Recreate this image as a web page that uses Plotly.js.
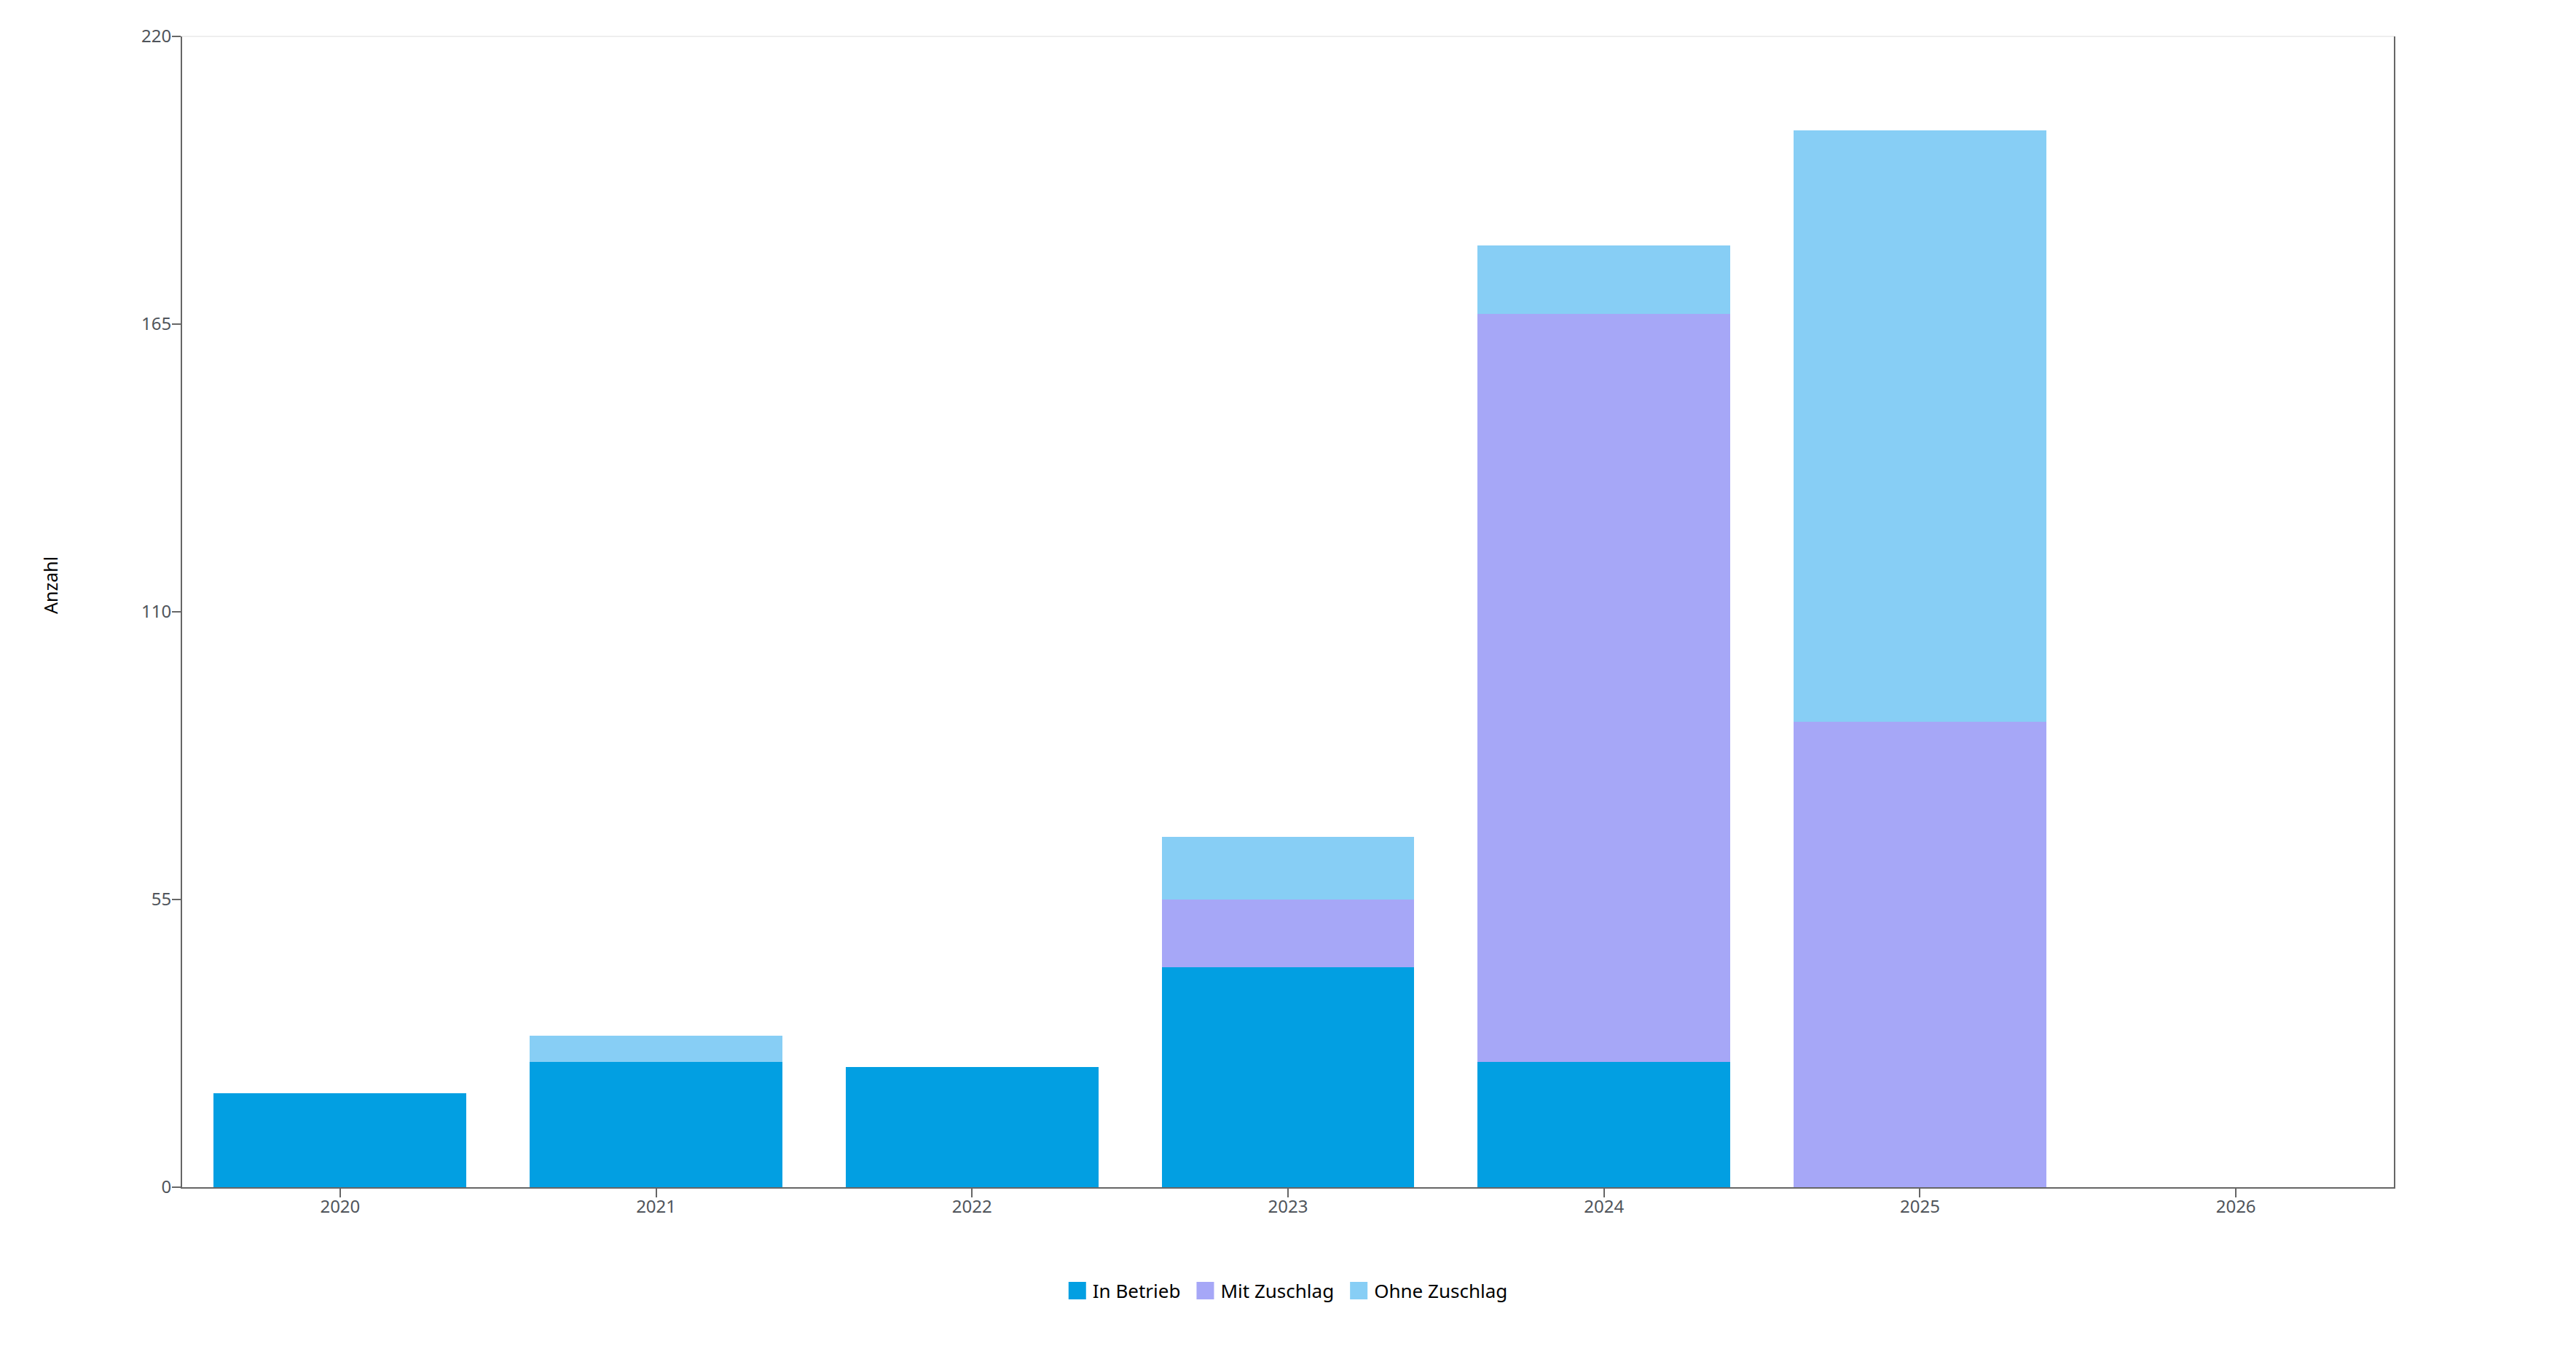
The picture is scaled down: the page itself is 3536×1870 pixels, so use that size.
<!DOCTYPE html>
<html>
<head>
<meta charset="utf-8">
<script src="https://cdn.plot.ly/plotly-3.0.1.min.js"></script>
<style>
  html, body { margin: 0; padding: 0; background: #ffffff; }
  #wrap { width: 3536px; height: 1870px; overflow: hidden; position: relative; background: #ffffff; }
  #chart { position: absolute; left: 0; top: 0; width: 1768px; height: 935px; transform: scale(2); transform-origin: 0 0; }
</style>
</head>
<body>
<div id="wrap"><div id="chart"></div></div>
<script>
// Data
const years = ["2020", "2021", "2022", "2023", "2024", "2025", "2026"];
const inBetrieb    = [18, 24, 23, 42, 24, 0, 0];
const mitZuschlag  = [0, 0, 0, 13, 143, 89, 0];
const ohneZuschlag = [0, 5, 0, 12, 13, 113, 0];
const seriesNames  = ["In Betrieb", "Mit Zuschlag", "Ohne Zuschlag"];
const yTicks       = [0, 55, 110, 165, 220];
const yTitle       = "Anzahl";

const colors = ["#029fe2", "#a6a7f7", "#87cef5"];
const fontFamily = '"Segoe UI", "Noto Sans", "Open Sans", sans-serif';

const series = [inBetrieb, mitZuschlag, ohneZuschlag];
const traces = series.map((vals, i) => ({
  type: "bar",
  name: seriesNames[i],
  x: years,
  y: vals,
  marker: { color: colors[i], line: { width: 0 } },
  hoverinfo: "x+y+name"
}));

const layout = {
  width: 1768,
  height: 935,
  paper_bgcolor: "#ffffff",
  plot_bgcolor: "#ffffff",
  barmode: "stack",
  bargap: 0.2,
  margin: { l: 125, r: 125, t: 25, b: 120 },
  font: { family: fontFamily, color: "#000000" },
  xaxis: {
    type: "category",
    showline: true,
    linecolor: "#666666",
    linewidth: 1,
    ticks: "outside",
    ticklen: 6,
    tickwidth: 1,
    tickcolor: "#666666",
    ticklabelstandoff: -4,
    showgrid: false,
    zeroline: false,
    tickfont: { family: fontFamily, size: 12, color: "#50555b" }
  },
  yaxis: {
    range: [0, 220],
    tickvals: yTicks,
    ticktext: yTicks.map(String),
    showline: true,
    mirror: true,
    linecolor: "#666666",
    linewidth: 1,
    ticks: "outside",
    ticklen: 6,
    tickwidth: 1,
    tickcolor: "#666666",
    ticklabelstandoff: -2,
    showgrid: false,
    zeroline: false,
    tickfont: { family: fontFamily, size: 12, color: "#50555b" }
  },
  annotations: [{
    text: yTitle,
    xref: "paper", yref: "paper",
    x: -0.0593, y: 0.5234,
    xanchor: "center", yanchor: "middle",
    textangle: -90,
    showarrow: false,
    font: { family: fontFamily, size: 12.5, color: "#000000" }
  }],
  shapes: [{
    type: "line", xref: "paper", yref: "paper",
    x0: 0, x1: 1, y0: 1, y1: 1,
    line: { color: "#eeeeee", width: 1 }
  }],
  showlegend: true,
  legend: {
    orientation: "h",
    x: 0.5, xanchor: "center",
    y: -0.09, yanchor: "middle",
    font: { family: fontFamily, size: 13, color: "#000000" },
    traceorder: "normal",
    itemclick: false
  }
};

// Tighten legend spacing (symbol-to-text gap and item gap) to match the reference
function tweakLegend(gd) {
  try {
    const items = Array.from(gd.querySelectorAll(".legend .traces"));
    if (!items.length) return;
    const svg = gd.querySelector(".main-svg");
    const svgRect = svg.getBoundingClientRect();
    const scale = svgRect.width / 1768;
    const symGap = 4.5, itemGap = 11;
    const info = items.map(g => {
      const txt = g.querySelector("text.legendtext");
      const sym = g.querySelector(".legendpoints path") || g.querySelector(".legendpoints");
      const sr = sym.getBoundingClientRect();
      const tr = txt.getBoundingClientRect();
      const m = /translate\(\s*([-\d.e]+)[ ,]+([-\d.e]+)\s*\)/.exec(g.getAttribute("transform") || "");
      return { g, txt, sr, tr, tx: m ? parseFloat(m[1]) : 0, ty: m ? parseFloat(m[2]) : 0 };
    });
    // layout in client pixels
    let pos = 0;
    const starts = [];
    info.forEach(d => {
      starts.push(pos);
      pos += d.sr.width + symGap * scale + d.tr.width;
      pos += itemGap * scale;
    });
    const total = pos - itemGap * scale;
    const fl = gd._fullLayout;
    const cxC = svgRect.left + (fl._size.l + fl._size.w / 2) * scale;
    const left0 = cxC - total / 2;
    info.forEach((d, i) => {
      const dTextSvg = ((d.tr.left - d.sr.right) / scale) - symGap;
      const oldX = parseFloat(d.txt.getAttribute("x") || "0");
      d.txt.setAttribute("x", oldX - dTextSvg);
      d.txt.querySelectorAll("tspan[x]").forEach(ts => {
        ts.setAttribute("x", parseFloat(ts.getAttribute("x")) - dTextSvg);
      });
      const dSvg = ((left0 + starts[i]) - d.sr.left) / scale;
      d.g.setAttribute("transform", "translate(" + (d.tx + dSvg) + "," + d.ty + ")");
    });
  } catch (e) { /* keep default legend */ }
}

Plotly.newPlot("chart", traces, layout, { displayModeBar: false, responsive: false })
  .then(gd => tweakLegend(gd));
</script>
</body>
</html>
